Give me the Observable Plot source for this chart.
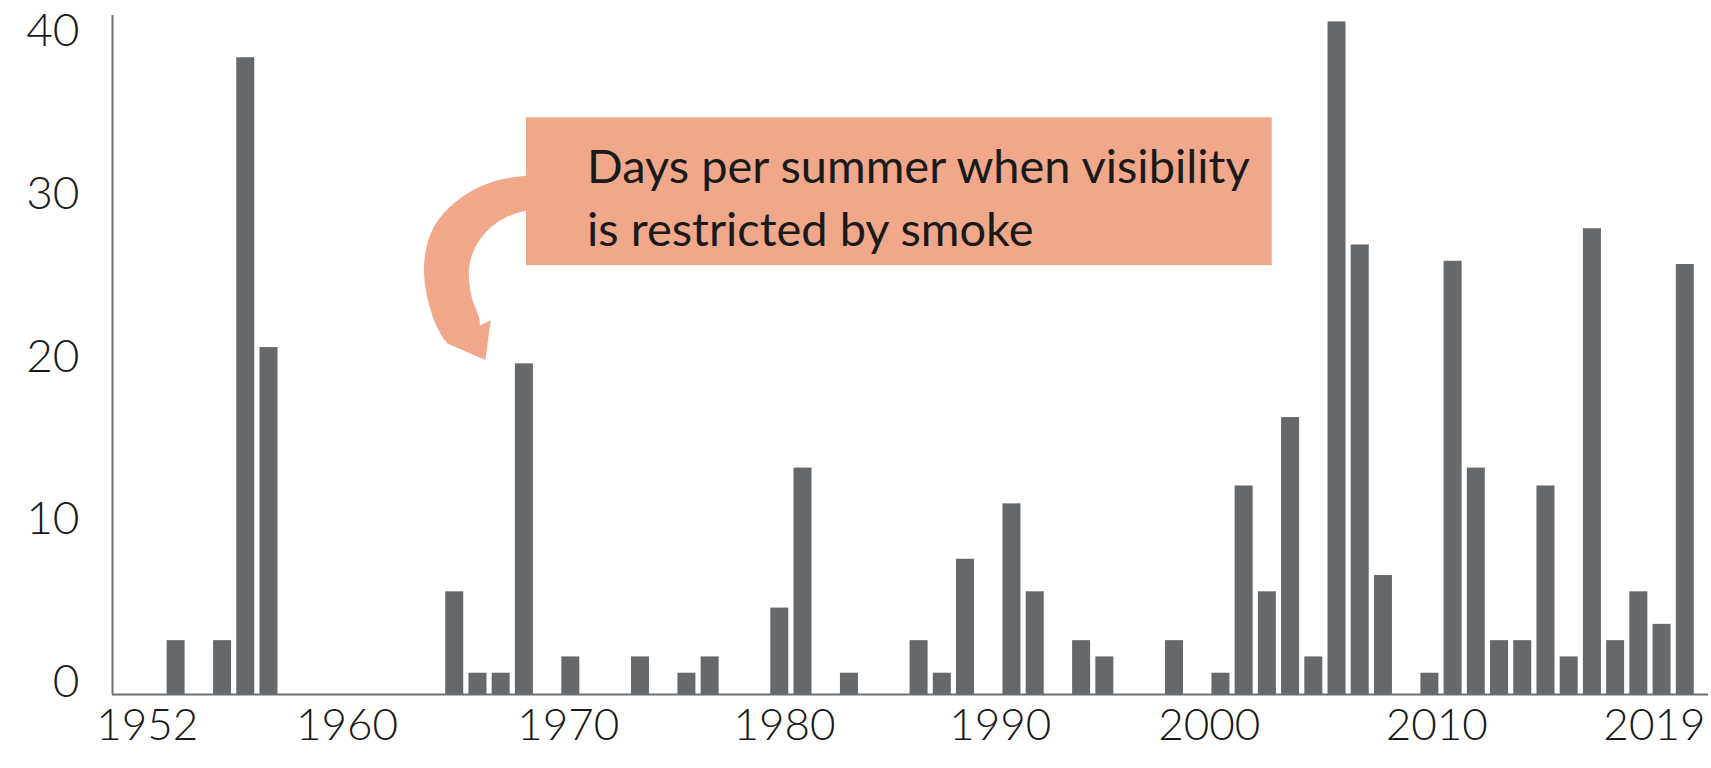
<!DOCTYPE html>
<html><head><meta charset="utf-8">
<script src="https://cdn.jsdelivr.net/npm/d3@7"></script>
<script src="https://cdn.jsdelivr.net/npm/@observablehq/plot@0.6"></script>
<style>
html,body{margin:0;padding:0;background:#fff;}
#chart svg{display:block;}
</style></head><body><div id="chart"></div>
<script>
// Days per summer when visibility is restricted by smoke, one value per bar slot (left to right)
const days = [3,0,3,38.8,21,0,0,0,0,0,0,0,6,1,1,20,0,2,0,0,2,0,1,2,0,0,5,13.6,0,1,0,0,3,1,8,0,11.4,6,0,3,2,0,0,3,0,1,12.5,6,16.7,2,41,27.3,7,0,1,26.3,13.6,3,3,12.5,2,28.3,3,6,4,26.1];
// x-axis labels and the bar-slot positions the chart places them at
const xTickLabels = ["1952","1960","1970","1980","1990","2000","2010","2019"];
const xTickSlots = [-1.24, 7.36, 16.89, 26.2, 35.5, 44.5, 54.3, 63.67];
const yTicks = [0,10,20,30,40];
const note = ["Days per summer when visibility", "is restricted by smoke"];
// annotation geometry in data units (slot, days)
const noteBox = [{x1: 15.09, x2: 47.21, y1: 26.34, y2: 35.42}];
const arrowBand = [
  [15.69,31.86],[15.04,31.86],[13.54,31.45],[12.10,30.33],[11.09,28.69],[10.69,26.64],[10.80,24.50],[11.30,22.40],[11.75,21.60],
  [13.05,22.55],[12.70,24.60],[12.62,26.23],[12.96,27.67],[13.82,28.99],[15.04,29.71],[15.69,29.71]
];
const arrowHead = [[11.60,21.60],[13.32,20.55],[13.55,22.98]];

const salmon = "#f1a78a";
const barColor = "#65696b";
const axisColor = "#6b6f71";
const bars = days.map((v, i) => ({slot: i, v})).filter(d => d.v > 0);
const halfBar = 0.3876;

const chart = Plot.plot({
  width: 1711,
  height: 768,
  marginLeft: 112,
  marginRight: 3,
  marginTop: 15,
  marginBottom: 74,
  style: {fontFamily: "Lato, 'Open Sans', sans-serif", background: "#fff", color: "#1a1a1a"},
  x: {domain: [-2.74, 66], axis: null},
  y: {domain: [0, 41.7], axis: null},
  marks: [
    Plot.rect(noteBox, {x1: "x1", x2: "x2", y1: "y1", y2: "y2", fill: salmon}),
    Plot.line(arrowBand, {x: d => d[0], y: d => d[1], fill: salmon, stroke: "none", curve: "catmull-rom"}),
    Plot.line(arrowHead, {x: d => d[0], y: d => d[1], fill: salmon, stroke: "none", curve: "linear-closed"}),
    Plot.text([note.join("\n")], {x: 17.70, y: 30.72, text: d => d, textAnchor: "start", lineHeight: 1.33, fontSize: 47, fill: "#1a1a1a"}),
    Plot.rect(bars, {x1: d => d.slot - halfBar, x2: d => d.slot + halfBar, y1: 0, y2: "v", fill: barColor, insetTop: -5}),
    Plot.ruleY([0], {stroke: axisColor, strokeWidth: 2}),
    Plot.ruleX([-2.74], {stroke: axisColor, strokeWidth: 2}),
    Plot.text(yTicks, {y: d => d, text: d => String(d), frameAnchor: "left", textAnchor: "end", dx: -33, dy: -12, fontSize: 46, fontWeight: 300, fill: "#1a1a1a"}),
    Plot.text(xTickLabels, {x: (d, i) => xTickSlots[i], text: d => d, frameAnchor: "bottom", dy: 45, fontSize: 44, fontWeight: 300, fill: "#1a1a1a"})
  ]
});
document.getElementById("chart").append(chart);
</script>
</body></html>
